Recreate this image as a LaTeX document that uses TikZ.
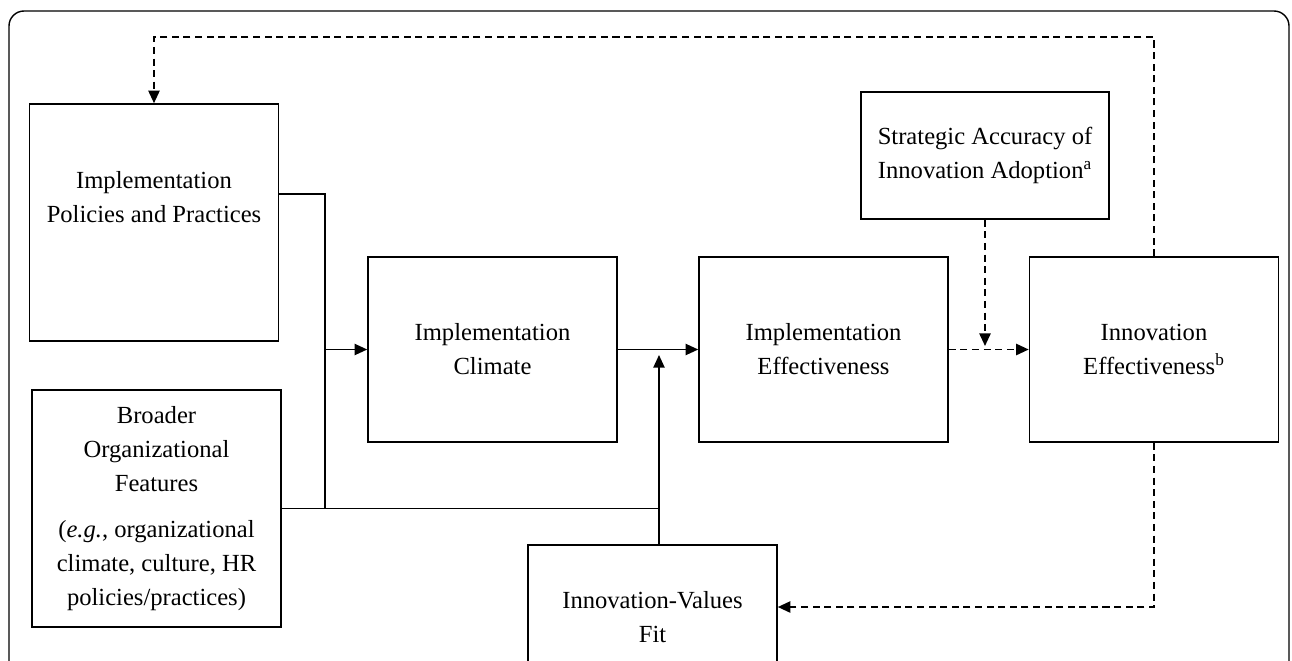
\documentclass[tikz,border=0pt]{standalone}
\usepackage{fontspec}
\setmainfont{Liberation Serif}
\usetikzlibrary{arrows.meta}

\begin{document}
\begin{tikzpicture}[x=0.02cm, y=-0.02cm, >={Triangle[length=7.2pt,width=6.4pt]},
  box/.style={draw, line width=0.9pt, inner sep=0pt, align=center, minimum width=4.98cm, font=\fontsize{14}{19.3}\selectfont},
  lbl/.style={align=center, inner sep=0pt, font=\fontsize{14}{19.3}\selectfont},
  link/.style={line width=0.9pt},
  fb/.style={line width=1.1pt, dash pattern=on 4pt off 2.6pt}]
\useasboundingbox (0,0) rectangle (1292,660);
% outer frame (runs past the bottom edge)
\draw[line width=0.8pt, rounded corners=0.3cm] (9,11) rectangle (1289,720);
% LEFT: policies and broader features
\node[box, minimum height=4.74cm] (ipp) at (154,222.5) {};
\node[lbl] (ippt) at ([yshift=0.51cm]ipp.center) {Implementation\\Policies and Practices};
\node[box, minimum height=4.74cm] (bof) at (156.5,508.5) {Broader\\Organizational\\Features\\[7pt](\textit{e.g.}, organizational\\climate, culture, HR\\policies/practices)};
% MIDDLE: climate, effectiveness, fit
\node[box, minimum height=3.7cm] (ic) at (492.5,349.5) {Implementation\\Climate};
\node[box, minimum height=3.7cm] (ie) at (823.5,349.5) {Implementation\\Effectiveness};
\node[box, minimum height=2.88cm] (ivf) at (652.5,617) {Innovation-Values\\Fit};
% RIGHT: outcomes
\node[box, minimum height=2.54cm, minimum width=4.96cm] (sa) at (985,155.5) {Strategic Accuracy of\\Innovation Adoption\textsuperscript{a}};
\node[box, minimum height=3.7cm] (inn) at (1154,349.5) {Innovation\\Effectiveness\textsuperscript{b}};
% solid paths
\coordinate (j1) at (325,349.5);
\coordinate (j2) at (659,508.5);
\coordinate (up) at (659,355);
\draw[link] ([yshift=0.57cm]ipp.east) -| (j1 |- j2);
\draw[link,->] (j1) -- (ic.west);
\draw[link] (bof.east) -- (j2);
\draw[link,->] (ivf.north -| j2) -- (up);
\draw[link,->] (ic.east) -- (ie.west);
% dashed paths
\coordinate (down) at (985,346);
\coordinate (top) at (154,37);
\draw[fb,->] (ie.east) -- (inn.west);
\draw[fb,->] (sa.south) -- (down);
\draw[fb,->] (inn.north) |- (top) -- (ipp.north);
\draw[fb,->] (inn.south) |- ([yshift=0.2cm]ivf.east);
\end{tikzpicture}
\end{document}
